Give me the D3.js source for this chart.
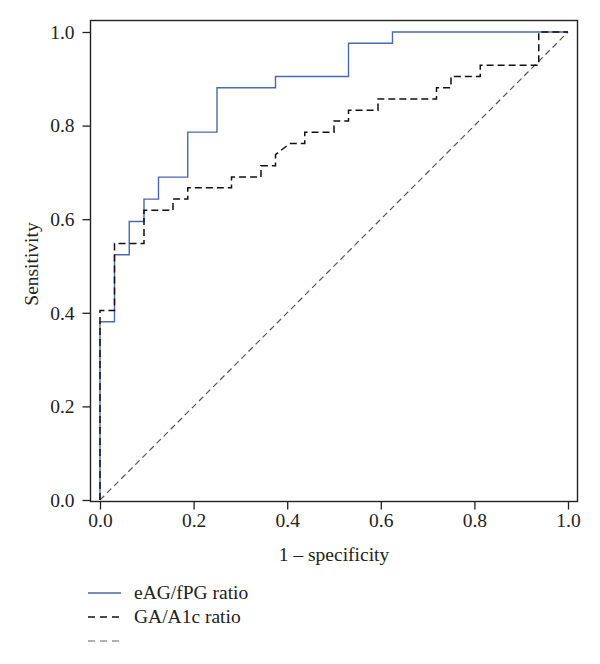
<!DOCTYPE html>
<html lang="en">
    <head>
        <meta charset="utf-8">
        <title>ROC curves</title>
        <script src="https://d3js.org/d3.v7.min.js"></script>
        <style type="text/css">
            body { margin: 0; background: #fff; }
            text { font-family: "Liberation Serif", "DejaVu Serif", serif; fill: #222; }
        </style>
    </head>
    <body>
        <script>
            // data: ROC vertices (1 - specificity, sensitivity)
            var eagFpr = [0, 0, 0.031, 0.031, 0.0625, 0.0625, 0.094, 0.094, 0.125, 0.125, 0.1875, 0.1875, 0.25, 0.25, 0.375, 0.375, 0.531, 0.531, 0.625, 0.625, 1.0];
            var eagTpr = [0, 0.381, 0.381, 0.524, 0.524, 0.595, 0.595, 0.643, 0.643, 0.690, 0.690, 0.786, 0.786, 0.881, 0.881, 0.905, 0.905, 0.976, 0.976, 1.0, 1.0];

            var gaFpr = [0, 0, 0.031, 0.031, 0.094, 0.094, 0.156, 0.156, 0.1875, 0.1875, 0.281, 0.281, 0.344, 0.344, 0.375, 0.375, 0.406, 0.4375, 0.4375, 0.5, 0.5, 0.531, 0.531, 0.594, 0.594, 0.719, 0.719, 0.75, 0.75, 0.8125, 0.8125, 0.9375, 0.9375, 1.0];
            var gaTpr = [0, 0.405, 0.405, 0.548, 0.548, 0.619, 0.619, 0.643, 0.643, 0.667, 0.667, 0.690, 0.690, 0.714, 0.714, 0.738, 0.762, 0.762, 0.786, 0.786, 0.810, 0.810, 0.833, 0.833, 0.857, 0.857, 0.881, 0.881, 0.905, 0.905, 0.929, 0.929, 1.0, 1.0];

            var refFpr = [0, 1];
            var refTpr = [0, 1];

            var tickValues = [0, 0.2, 0.4, 0.6, 0.8, 1.0];
            var legendLabels = ["eAG/fPG ratio", "GA/A1c ratio", ""];

            // configuration
            var outerWidth = 600;
            var outerHeight = 664;
            var fontSize = "19.5px";

            var box = { left: 90.5, top: 20.5, right: 577.5, bottom: 501.5 };

            var svg = d3.select("body")
                        .append("svg")
                        .attr("width", outerWidth)
                        .attr("height", outerHeight);

            var xScale = d3.scaleLinear().domain([0, 1]).range([100, 568]);
            var yScale = d3.scaleLinear().domain([0, 1]).range([500, 32]);

            function toPoints(xs, ys) {
                return xs.map(function (x, i) { return [x, ys[i]]; });
            }

            var line = d3.line()
                .x(function (d) { return xScale(d[0]); })
                .y(function (d) { return yScale(d[1]); });

            // axes
            var xAxis = d3.axisBottom(xScale)
                .tickValues(tickValues)
                .tickSize(8)
                .tickPadding(4)
                .tickFormat(d3.format(".1f"));

            var yAxis = d3.axisLeft(yScale)
                .tickValues(tickValues)
                .tickSize(8)
                .tickPadding(8)
                .tickFormat(d3.format(".1f"));

            var gx = svg.append("g")
                .attr("transform", "translate(0," + box.bottom + ")")
                .call(xAxis);

            var gy = svg.append("g")
                .attr("transform", "translate(" + box.left + ",0)")
                .call(yAxis);

            [gx, gy].forEach(function (g) {
                g.select(".domain").remove();
                g.selectAll(".tick line").attr("stroke", "#222").attr("stroke-width", 1.3);
                g.selectAll(".tick text")
                    .attr("fill", "#222")
                    .style("font-family", "'Liberation Serif', 'DejaVu Serif', serif")
                    .style("font-size", fontSize);
            });

            // plot box
            svg.append("rect")
                .attr("x", box.left)
                .attr("y", box.top)
                .attr("width", box.right - box.left)
                .attr("height", box.bottom - box.top)
                .attr("fill", "none")
                .attr("stroke", "#222")
                .attr("stroke-width", 1.4);

            // curves
            svg.append("path")
                .attr("d", line(toPoints(refFpr, refTpr)))
                .attr("fill", "none")
                .attr("stroke", "#555")
                .attr("stroke-width", 1.2)
                .attr("stroke-dasharray", "6,4");

            svg.append("path")
                .attr("d", line(toPoints(eagFpr, eagTpr)))
                .attr("fill", "none")
                .attr("stroke", "#4a69b0")
                .attr("stroke-width", 1.4);

            svg.append("path")
                .attr("d", line(toPoints(gaFpr, gaTpr)))
                .attr("fill", "none")
                .attr("stroke", "#111")
                .attr("stroke-width", 1.5)
                .attr("stroke-dasharray", "7,4");

            // axis titles
            svg.append("text")
                .attr("x", 334)
                .attr("y", 561)
                .attr("text-anchor", "middle")
                .style("font-size", fontSize)
                .text("1 \u2013 specificity");

            svg.append("text")
                .attr("transform", "translate(38,264) rotate(-90)")
                .attr("text-anchor", "middle")
                .style("font-size", fontSize)
                .text("Sensitivity");

            // legend
            var legendStyles = [
                { stroke: "#4a69b0", width: 1.4, dash: null },
                { stroke: "#111", width: 1.5, dash: "7,5" },
                { stroke: "#666", width: 1.1, dash: "7,5" }
            ];

            var legend = svg.append("g");
            legendLabels.forEach(function (label, i) {
                var y = 593 + i * 24;
                var s = legendStyles[i];
                legend.append("line")
                    .attr("x1", 88).attr("x2", 121)
                    .attr("y1", y).attr("y2", y)
                    .attr("stroke", s.stroke)
                    .attr("stroke-width", s.width)
                    .attr("stroke-dasharray", s.dash);
                legend.append("text")
                    .attr("x", 134)
                    .attr("y", y + 6)
                    .style("font-size", fontSize)
                    .text(label);
            });
        </script>
    </body>
</html>
